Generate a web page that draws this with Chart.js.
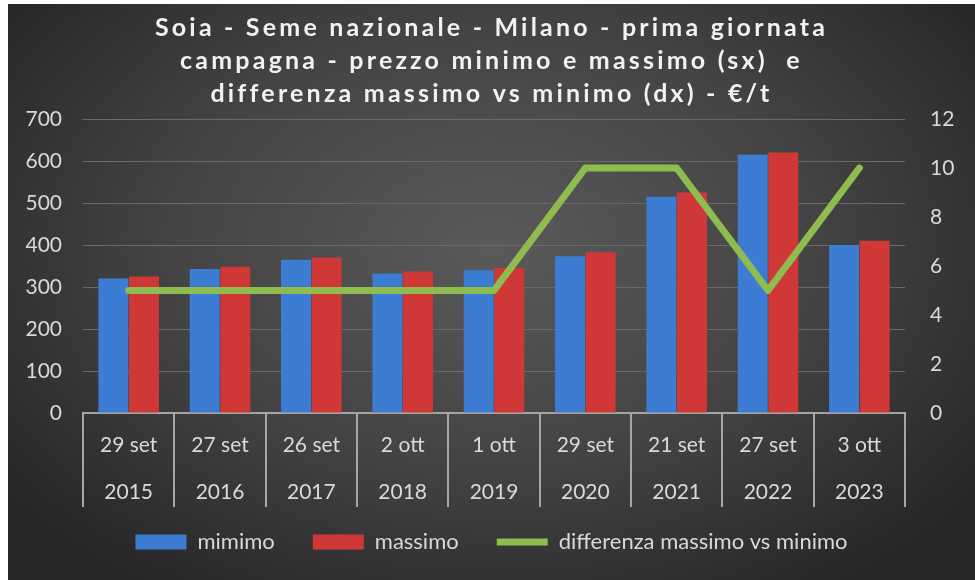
<!DOCTYPE html>
<html>
<head>
<meta charset="utf-8">
<script src="https://cdn.jsdelivr.net/npm/chart.js@4.4.1/dist/chart.umd.min.js"></script>
<style>
  html, body { margin: 0; background: #fff; }
  .panel {
    position: absolute; left: 8px; top: 4px; width: 967px; height: 576px;
    background: radial-gradient(ellipse 62% 70% at 50% 42%, #5a5a5a 0%, #434343 55%, #272727 100%);
  }
</style>
</head>
<body>
<div class="panel"><canvas id="chart"></canvas></div>
<script>
const dates = ['29 set', '27 set', '26 set', '2 ott', '1 ott', '29 set', '21 set', '27 set', '3 ott'];
const years = ['2015', '2016', '2017', '2018', '2019', '2020', '2021', '2022', '2023'];
const minimo = [320, 343, 365, 332, 340, 373, 515, 615, 400];
const massimo = [325, 348, 370, 337, 345, 383, 525, 620, 410];
const differenza = [5, 5, 5, 5, 5, 10, 10, 5, 10];
const leftTicks = [0, 700, 100];
const rightTicks = [0, 12, 2];

const titleLines = [
    'Soia - Seme nazionale - Milano - prima giornata',
    'campagna - prezzo minimo e massimo (sx)  e',
    'differenza massimo vs minimo (dx) - €/t'
];

const textColor = '#d9d9d9';
const fontFamily = 'Lato, "Open Sans", sans-serif';

// the title in the picture is widely spaced, wrap the title box draw
const spacedTitle = {
    id: 'spacedTitle',
    afterInit(chart) {
        const box = chart.titleBlock;
        if (!box) return;
        const draw = box.draw.bind(box);
        box.draw = area => {
            chart.ctx.save();
            chart.ctx.letterSpacing = '3.2px';
            draw(area);
            chart.ctx.restore();
        };
    }
};

// the x labels need a tall axis box, so pull the legend back up under them
const legendLift = {
    id: 'legendLift',
    afterLayout(chart) {
        chart.legend.top -= 11;
        chart.legend.bottom -= 11;
    }
};

const ctx = document.getElementById('chart').getContext('2d');
new Chart(ctx, {
    type: 'bar',
    data: {
        labels: dates.map((d, i) => [d, years[i]]),
        datasets: [{
            label: 'mimimo',
            data: minimo,
            backgroundColor: '#3c7cd3',
            pointStyle: 'rect',
            yAxisID: 'y',
            order: 1
        }, {
            label: 'massimo',
            data: massimo,
            backgroundColor: '#d03838',
            pointStyle: 'rect',
            yAxisID: 'y',
            order: 1
        }, {
            type: 'line',
            label: 'differenza massimo vs minimo',
            data: differenza,
            borderColor: '#8fbc4f',
            backgroundColor: '#8fbc4f',
            borderWidth: 7,
            borderCapStyle: 'round',
            borderJoinStyle: 'round',
            pointRadius: 0,
            pointStyle: 'line',
            tension: 0,
            yAxisID: 'y1',
            order: 0
        }]
    },
    options: {
        responsive: true,
        maintainAspectRatio: false,
        animation: false,
        layout: { padding: { top: 0, bottom: 6, left: 0, right: 0 } },
        datasets: {
            bar: { categoryPercentage: 0.67, barPercentage: 0.98 }
        },
        scales: {
            x: {
                grid: { offset: true, drawOnChartArea: false, color: '#a6a6a6', lineWidth: 2, tickLength: 94 },
                border: { color: '#a6a6a6', width: 2 },
                ticks: {
                    color: textColor,
                    font: { family: fontFamily, size: 21, lineHeight: 2.24 },
                    padding: -85,
                    maxRotation: 0,
                    autoSkip: false
                },
                afterFit(scale) { scale.height = 91; }
            },
            y: {
                position: 'left',
                min: leftTicks[0],
                max: leftTicks[1],
                grid: { color: '#6a6a6a', lineWidth: 1, drawTicks: false },
                border: { display: false },
                ticks: {
                    stepSize: leftTicks[2],
                    color: textColor,
                    font: { family: fontFamily, size: 21 },
                    padding: 21
                },
                afterFit(scale) { scale.width = 75; }
            },
            y1: {
                position: 'right',
                min: rightTicks[0],
                max: rightTicks[1],
                grid: { display: false },
                border: { display: false },
                ticks: {
                    stepSize: rightTicks[2],
                    color: textColor,
                    font: { family: fontFamily, size: 21 },
                    padding: 17
                },
                afterFit(scale) { scale.width = 70; }
            }
        },
        plugins: {
            title: {
                display: true,
                text: titleLines,
                color: '#f2f2f2',
                font: { family: fontFamily, size: 25, weight: 'bold', lineHeight: 1.32 },
                padding: { top: 7.5, bottom: 8.5 }
            },
            legend: {
                position: 'bottom',
                labels: {
                    usePointStyle: true,
                    pointStyleWidth: 51,
                    boxHeight: 15,
                    color: textColor,
                    font: { family: fontFamily, size: 22 },
                    padding: 38,
                    sort: (a, b) => a.datasetIndex - b.datasetIndex
                }
            },
            tooltip: { enabled: false }
        }
    },
    plugins: [spacedTitle, legendLift]
});
</script>
</body>
</html>
